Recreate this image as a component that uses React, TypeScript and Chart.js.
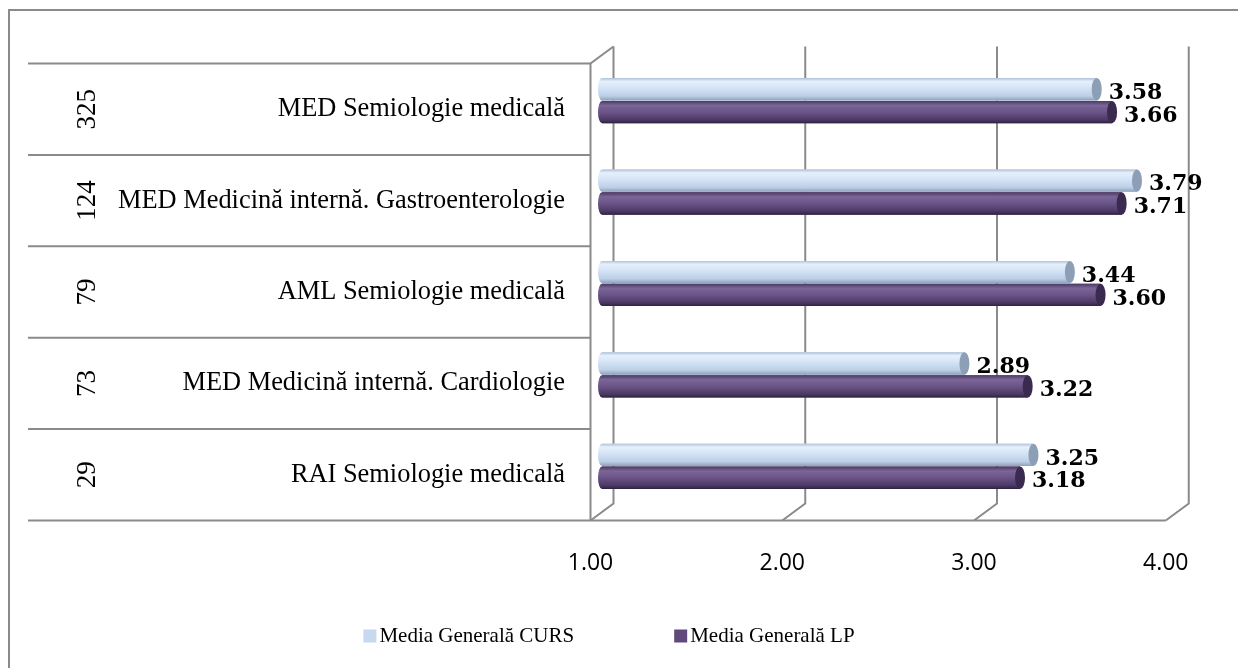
import React, { useEffect, useRef } from 'react';
import { Chart, registerables } from 'chart.js';

Chart.register(...registerables);

const categories = [
  'MED Semiologie medicală',
  'MED Medicină internă. Gastroenterologie',
  'AML Semiologie medicală',
  'MED Medicină internă. Cardiologie',
  'RAI Semiologie medicală',
];
const respondents = ['325', '124', '79', '73', '29'];
const cursValues = [3.58, 3.79, 3.44, 2.89, 3.25];
const lpValues = [3.66, 3.71, 3.6, 3.22, 3.18];
const seriesLabels = ['Media Generală CURS', 'Media Generală LP'];
const xTicks = [1, 2, 3, 4];

const W = 1238;
const H = 668;
const DX = 11.5; // half depth of the 3D effect (x)
const DY = 8.5; // half depth of the 3D effect (y)
const GRID = '#8a8a8a';

const seriesStyle = [
  {
    base: '#C6D9F1',
    cap: '#8D9FB7',
    stops: [
      [0, '#AFC2DA'],
      [0.15, '#E6F0FB'],
      [0.45, '#D4E3F6'],
      [0.8, '#BCCFE6'],
      [1, '#8CA0B9'],
    ],
  },
  {
    base: '#604A7B',
    cap: '#3A2A4F',
    stops: [
      [0, '#4A3862'],
      [0.2, '#7B6698'],
      [0.5, '#6B5488'],
      [0.85, '#4B3963'],
      [1, '#2D2140'],
    ],
  },
];

const decorPlugin = {
  id: 'decor',
  beforeDatasetsDraw(chart: any) {
    const { ctx, chartArea } = chart;
    const xs = chart.scales.x;
    const ys = chart.scales.y;
    const top = chartArea.top;
    const bottom = chartArea.bottom;
    ctx.save();
    ctx.strokeStyle = GRID;
    ctx.lineWidth = 2;
    // outer frame
    ctx.beginPath();
    ctx.moveTo(9, H);
    ctx.lineTo(9, 10);
    ctx.lineTo(W, 10);
    ctx.stroke();
    // back wall gridlines + floor diagonals
    xTicks.forEach((v) => {
      const x = xs.getPixelForValue(v);
      ctx.beginPath();
      ctx.moveTo(x + DX, top - DY);
      ctx.lineTo(x + DX, bottom - DY);
      ctx.lineTo(x - DX, bottom + DY);
      ctx.stroke();
    });
    const x1 = xs.getPixelForValue(xTicks[0]);
    const x4 = xs.getPixelForValue(xTicks[xTicks.length - 1]);
    // floor front edge
    ctx.beginPath();
    ctx.moveTo(x1 - DX, bottom + DY);
    ctx.lineTo(x4 - DX, bottom + DY);
    ctx.stroke();
    // side wall front edge
    ctx.beginPath();
    ctx.moveTo(x1 + DX, top - DY);
    ctx.lineTo(x1 - DX, top + DY);
    ctx.lineTo(x1 - DX, bottom + DY);
    ctx.stroke();
    // table lines
    for (let i = 0; i <= categories.length; i++) {
      const y = ys.getPixelForValue(i - 0.5) + DY;
      ctx.beginPath();
      ctx.moveTo(28, y);
      ctx.lineTo(x1 - DX, y);
      ctx.stroke();
    }
    // respondent counts (rotated)
    ctx.fillStyle = '#000';
    ctx.font = '27px "Liberation Serif"';
    ctx.textAlign = 'center';
    ctx.textBaseline = 'middle';
    respondents.forEach((r, i) => {
      const y = ys.getPixelForValue(i) + DY;
      ctx.save();
      ctx.translate(88, y);
      ctx.rotate(-Math.PI / 2);
      ctx.fillText(r, 0, 0);
      ctx.restore();
    });
    ctx.restore();
  },
  afterDatasetsDraw(chart: any) {
    const { ctx } = chart;
    ctx.save();
    chart.data.datasets.forEach((ds: any, di: number) => {
      const meta = chart.getDatasetMeta(di);
      const st = seriesStyle[di];
      meta.data.forEach((el: any) => {
        const { x, y, base, height } = el.getProps(['x', 'y', 'base', 'height'], true);
        const t = y - height / 2;
        const g = ctx.createLinearGradient(0, t, 0, t + height);
        st.stops.forEach((s: any) => g.addColorStop(s[0], s[1]));
        ctx.fillStyle = g;
        ctx.beginPath();
        ctx.moveTo(base, t);
        ctx.lineTo(x, t);
        ctx.lineTo(x, t + height);
        ctx.lineTo(base, t + height);
        ctx.ellipse(base, y, 4, height / 2, 0, Math.PI / 2, Math.PI * 1.5);
        ctx.closePath();
        ctx.fill();
        ctx.fillStyle = st.cap;
        ctx.beginPath();
        ctx.ellipse(x, y, 5, height / 2, 0, 0, Math.PI * 2);
        ctx.fill();
      });
    });
    // data labels
    ctx.fillStyle = '#000';
    ctx.font = 'bold 22px "DejaVu Serif"';
    ctx.textAlign = 'left';
    ctx.textBaseline = 'middle';
    chart.data.datasets.forEach((ds: any, di: number) => {
      const meta = chart.getDatasetMeta(di);
      meta.data.forEach((el: any, i: number) => {
        const { x, y } = el.getProps(['x', 'y'], true);
        ctx.fillText(Number(ds.data[i]).toFixed(2), x + 12, y + 4);
      });
    });
    ctx.restore();
  },
  afterDraw(chart: any) {
    const { ctx } = chart;
    ctx.save();
    ctx.font = '21px "Liberation Serif"';
    ctx.textBaseline = 'middle';
    ctx.textAlign = 'left';
    const box = 13;
    const gapText = 3;
    const gapItems = 100;
    const widths = chart.data.datasets.map((ds: any) => ctx.measureText(ds.label).width);
    const total = widths.reduce((a: number, w: number) => a + box + gapText + w, 0) + gapItems * (widths.length - 1);
    let x = 609 - total / 2;
    const yc = 636;
    chart.data.datasets.forEach((ds: any, di: number) => {
      ctx.fillStyle = seriesStyle[di].base;
      ctx.fillRect(x, yc - box / 2, box, box);
      ctx.fillStyle = '#000';
      ctx.fillText(ds.label, x + box + gapText, yc);
      x += box + gapText + widths[di] + gapItems;
    });
    ctx.restore();
  },
};

export default function App() {
  const ref = useRef<HTMLCanvasElement>(null);
  useEffect(() => {
    if (!ref.current) return;
    const chart = new Chart(ref.current, {
      type: 'bar',
      data: {
        labels: categories,
        datasets: [
          {
            label: seriesLabels[0],
            data: cursValues,
            backgroundColor: seriesStyle[0].base,
            borderWidth: 0,
            base: xTicks[0],
            categoryPercentage: 0.5,
            barPercentage: 0.98,
          },
          {
            label: seriesLabels[1],
            data: lpValues,
            backgroundColor: seriesStyle[1].base,
            borderWidth: 0,
            base: xTicks[0],
            categoryPercentage: 0.5,
            barPercentage: 0.98,
          },
        ],
      },
      options: {
        indexAxis: 'y',
        animation: false,
        responsive: false,
        layout: { padding: { top: 55, right: 47, left: 0, bottom: 0 } },
        plugins: {
          legend: { display: false },
          tooltip: { enabled: false },
          title: { display: false },
        },
        scales: {
          x: {
            type: 'linear',
            min: 1,
            max: 4,
            grid: { display: false, drawTicks: false },
            border: { display: false },
            ticks: {
              stepSize: 1,
              padding: 38,
              labelOffset: -DX,
              color: '#000',
              font: { family: '"Open Sans"', size: 23 },
              callback: (v: any) => Number(v).toFixed(2),
            },
            afterFit: (s: any) => {
              s.height = H - 512;
            },
          },
          y: {
            grid: { display: false, drawTicks: false },
            border: { display: false },
            ticks: {
              padding: 37,
              labelOffset: DY,
              color: '#000',
              font: { family: '"Liberation Serif"', size: 26.4 },
            },
            afterFit: (s: any) => {
              s.width = 602;
            },
          },
        },
      },
      plugins: [decorPlugin],
    });
    return () => chart.destroy();
  }, []);
  return (
    <div style={{ position: 'absolute', left: 0, top: 0, width: W, height: H, background: '#fff' }}>
      <canvas ref={ref} width={W} height={H} style={{ display: 'block' }} />
    </div>
  );
}
